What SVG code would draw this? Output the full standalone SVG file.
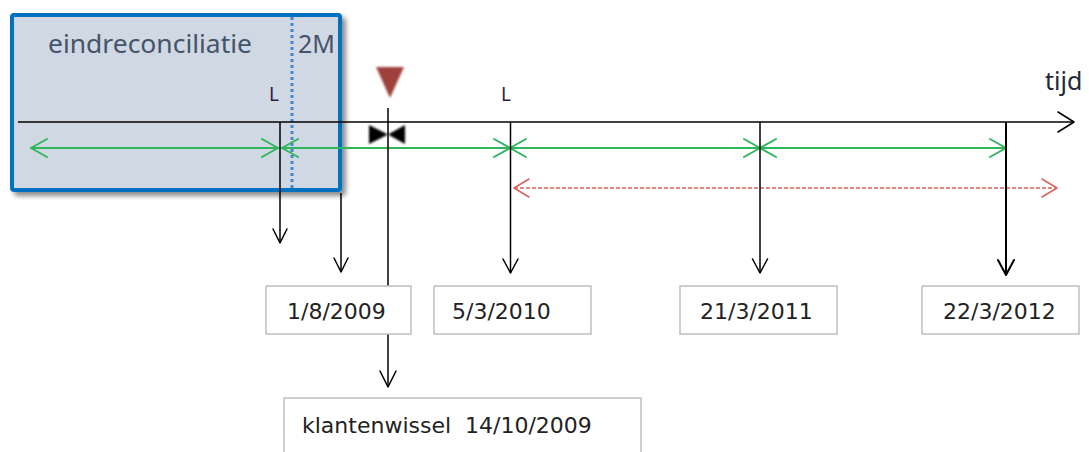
<svg xmlns="http://www.w3.org/2000/svg" width="1089" height="452" viewBox="0 0 1089 452">
  <defs>
    <filter id="shadow" x="-10%" y="-10%" width="130%" height="130%">
      <feGaussianBlur in="SourceAlpha" stdDeviation="2.5"/>
      <feOffset dx="4" dy="4" result="b"/>
      <feComponentTransfer><feFuncA type="linear" slope="0.45"/></feComponentTransfer>
      <feMerge><feMergeNode/><feMergeNode in="SourceGraphic"/></feMerge>
    </filter>
    <filter id="soft" x="-20%" y="-20%" width="140%" height="140%">
      <feGaussianBlur stdDeviation="0.8"/>
    </filter>
  </defs>
  <style>
    .box { fill: #ffffff; stroke: #bfbfbf; stroke-width: 1.5; }
    .date { font-family: "DejaVu Sans", Verdana, sans-serif; font-size: 22px; fill: #222222; white-space: pre; }
    .big { font-family: "Noto Sans", "Open Sans", sans-serif; font-size: 25px; fill: #44546a; }
    .lbl { font-family: "Noto Sans", "DejaVu Sans", sans-serif; font-size: 19px; fill: #2e1f47; }
    .ax { stroke: #000; stroke-width: 1.5; fill: none; }
    .head { stroke: #000; stroke-width: 1.5; fill: none; stroke-linecap: round; stroke-linejoin: round; }
    .grn { stroke: #2fb55c; stroke-width: 2; fill: none; stroke-linecap: round; stroke-linejoin: round; }
    .red { stroke: #d9625c; stroke-width: 1.5; fill: none; }
    .redh { stroke: #d9625c; stroke-width: 1.5; fill: none; stroke-linecap: round; stroke-linejoin: round; }
  </style>

  <rect width="1089" height="452" fill="#ffffff"/>

  <!-- eindreconciliatie period box -->
  <g id="eindreconciliatie">
    <rect x="12" y="15" width="328" height="175" rx="2" fill="#d0d8e3" stroke="#0070c0" stroke-width="4" filter="url(#shadow)"/>
    <line x1="292" y1="17" x2="292" y2="189" stroke="#4a86d0" stroke-width="3" stroke-dasharray="3,3"/>
    <text class="big" x="48" y="53" textLength="204" lengthAdjust="spacingAndGlyphs">eindreconciliatie</text>
    <text class="big" x="298" y="53">2M</text>
  </g>

  <g id="labels">
    <text class="lbl" x="269" y="101">L</text>
    <text class="lbl" x="501" y="101">L</text>
    <text class="big" x="1045" y="90" style="fill:#222a3a">tijd</text>
  </g>

  <g id="marker-klantenwissel">
    <polygon points="376,67 404,67 390,98" fill="#a0413c" filter="url(#soft)"/>
    <polygon points="369,125 369,144 388,134.5 405,125 405,144 388,134.5" fill="#000" filter="url(#soft)"/>
  </g>

  <g id="connectors">
    <!-- time axis -->
    <line class="ax" x1="18" y1="122" x2="1074" y2="122"/>
    <polyline class="head" points="1058,112 1074,122 1058,132"/>

    <!-- green period arrows -->
    <line class="grn" x1="31" y1="148" x2="278" y2="148"/>
    <polyline class="grn" points="47,139 31,148 47,157"/>
    <polyline class="grn" points="262,139 278,148 262,157"/>

    <line class="grn" x1="282" y1="148" x2="510" y2="148"/>
    <polyline class="grn" points="298,139 282,148 298,157"/>
    <polyline class="grn" points="494,139 510,148 494,157"/>

    <line class="grn" x1="510" y1="148" x2="760" y2="148"/>
    <polyline class="grn" points="526,139 510,148 526,157"/>
    <polyline class="grn" points="744,139 760,148 744,157"/>

    <line class="grn" x1="760" y1="148" x2="1006" y2="148"/>
    <polyline class="grn" points="776,139 760,148 776,157"/>
    <polyline class="grn" points="990,139 1006,148 990,157"/>

    <!-- red dashed arrow -->
    <line class="red" x1="514" y1="188" x2="1057" y2="188" stroke-dasharray="4,2"/>
    <polyline class="redh" points="529,179 514,188 529,197"/>
    <polyline class="redh" points="1042,179 1057,188 1042,197"/>

    <!-- vertical arrows -->
    <line class="ax" x1="280" y1="122" x2="280" y2="243"/>
    <polyline class="head" points="273,229 280,243 287,229"/>

    <line class="ax" x1="341" y1="193" x2="341" y2="272"/>
    <polyline class="head" points="334,258 341,272 348,258"/>

    <line class="ax" x1="388" y1="108" x2="388" y2="387"/>
    <polyline class="head" points="380,371 388,387 396,371"/>

    <line class="ax" x1="510.5" y1="122" x2="510.5" y2="273"/>
    <polyline class="head" points="503,259 510.5,273 518,259"/>

    <line class="ax" x1="760" y1="122" x2="760" y2="273"/>
    <polyline class="head" points="752.5,259 760,273 767.5,259"/>

    <line class="ax" x1="1006" y1="122" x2="1006" y2="275" style="stroke-width:2"/>
    <polyline class="head" points="998,260 1006,275 1014,260" style="stroke-width:2"/>
  </g>

  <g id="date-1-8-2009">
    <rect class="box" x="266" y="286" width="145" height="48"/>
    <text class="date" x="287" y="319">1/8/2009</text>
  </g>
  <g id="date-5-3-2010">
    <rect class="box" x="434" y="286" width="157" height="48"/>
    <text class="date" x="452" y="319">5/3/2010</text>
  </g>
  <g id="date-21-3-2011">
    <rect class="box" x="680" y="286" width="157" height="48"/>
    <text class="date" x="700" y="319">21/3/2011</text>
  </g>
  <g id="date-22-3-2012">
    <rect class="box" x="922" y="286" width="157" height="48"/>
    <text class="date" x="943" y="319">22/3/2012</text>
  </g>
  <g id="klantenwissel">
    <rect class="box" x="284" y="398" width="357" height="70"/>
    <text class="date" x="302" y="433" xml:space="preserve">klantenwissel  14/10/2009</text>
  </g>
</svg>
